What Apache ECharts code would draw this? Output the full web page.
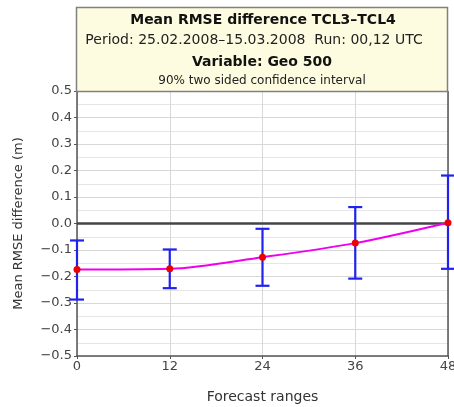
<!DOCTYPE html>
<html><head><meta charset="utf-8">
<script src="https://cdn.jsdelivr.net/npm/echarts@6/dist/echarts.min.js"></script>
<style>html,body{margin:0;padding:0;background:#fff}#c{width:454px;height:407px}</style>
</head><body><div id="c"></div>
<script>
const forecastRanges = [0, 12, 24, 36, 48];
const meanDiff = [-0.174, -0.171, -0.127, -0.074, 0.003];
const upperBound = [-0.064, -0.098, -0.020, 0.062, 0.181];
const lowerBound = [-0.287, -0.244, -0.235, -0.208, -0.171];
const titleLines = [
  'Mean RMSE difference TCL3\u2013TCL4',
  'Period: 25.02.2008\u201315.03.2008  Run: 00,12 UTC',
  'Variable: Geo 500',
  '90% two sided confidence interval'
];

const chart = echarts.init(document.getElementById('c'), null, {renderer: 'canvas'});
const font = 'DejaVu Sans, sans-serif';
const GL = 77, GR = 6, GT = 91, GB = 51;

const errData = forecastRanges.map((x, i) => [x, lowerBound[i], upperBound[i]]);
const lineData = forecastRanges.map((x, i) => [x, meanDiff[i]]);

chart.setOption({
  animation: false,
  textStyle: {fontFamily: font},
  grid: {left: GL, right: GR, top: GT, bottom: GB, show: false, containLabel: false, outerBoundsMode: 'none'},
  graphic: [
    {type: 'rect', shape: {x: 76.5, y: 7.5, width: 371, height: 84},
     style: {fill: '#fefce0', stroke: '#808080', lineWidth: 1.5}, z: 10},
    {type: 'text', x: 263, y: 20, style: {text: titleLines[0], font: 'bold 14px ' + font, fill: '#111', align: 'center', verticalAlign: 'middle'}, z: 11},
    {type: 'text', x: 254, y: 40, style: {text: titleLines[1], font: '14px ' + font, fill: '#222', align: 'center', verticalAlign: 'middle'}, z: 11},
    {type: 'text', x: 262, y: 62, style: {text: titleLines[2], font: 'bold 14px ' + font, fill: '#111', align: 'center', verticalAlign: 'middle'}, z: 11},
    {type: 'text', x: 262, y: 81, style: {text: titleLines[3], font: '12px ' + font, fill: '#222', align: 'center', verticalAlign: 'middle'}, z: 11}
  ],
  xAxis: {
    type: 'value', min: 0, max: 48, interval: 12,
    name: 'Forecast ranges', nameLocation: 'middle', nameGap: 34,
    nameTextStyle: {fontSize: 14, color: '#333', fontFamily: font},
    axisLine: {show: true, onZero: false, lineStyle: {color: '#555', width: 1.5}},
    axisTick: {show: true, length: 3, lineStyle: {color: '#555'}},
    axisLabel: {fontSize: 13, color: '#444', margin: 4, fontFamily: font},
    splitLine: {show: true, lineStyle: {color: '#d8d8d8', width: 1}}
  },
  yAxis: {
    type: 'value', min: -0.5, max: 0.5, interval: 0.1,
    name: 'Mean RMSE difference (m)', nameLocation: 'middle', nameGap: 52,
    nameTextStyle: {fontSize: 13, color: '#333', fontFamily: font},
    axisLine: {show: true, onZero: false, lineStyle: {color: '#555', width: 1.5}},
    axisTick: {show: true, length: 3, lineStyle: {color: '#555'}},
    axisLabel: {fontSize: 13, color: '#444', margin: 5, fontFamily: font,
      formatter: v => (Math.abs(v) < 1e-9 ? '0.0' : v.toFixed(1).replace('-', '\u2212'))},
    splitLine: {show: true, lineStyle: {color: '#d8d8d8', width: 1}},
    minorTick: {show: false, splitNumber: 2},
    minorSplitLine: {show: true, lineStyle: {color: '#e6e6e6', width: 1}}
  },
  series: [
    {
      type: 'line', data: [[0, 0], [48, 0]], symbol: 'none', silent: true,
      lineStyle: {color: '#444', width: 2.5}, z: 2
    },
    {
      type: 'line', data: [[48, -0.5], [48, 0.5]], symbol: 'none', silent: true,
      lineStyle: {color: '#555', width: 1.5}, z: 2
    },
    {
      type: 'custom', z: 4,
      renderItem: function (params, api) {
        const x = api.value(0);
        const lo = api.coord([x, api.value(1)]);
        const hi = api.coord([x, api.value(2)]);
        const w = 7;
        const st = {stroke: '#2222ee', lineWidth: 2.2};
        return {type: 'group', children: [
          {type: 'line', shape: {x1: lo[0], y1: lo[1], x2: hi[0], y2: hi[1]}, style: st},
          {type: 'line', shape: {x1: lo[0] - w, y1: lo[1], x2: lo[0] + w, y2: lo[1]}, style: st},
          {type: 'line', shape: {x1: hi[0] - w, y1: hi[1], x2: hi[0] + w, y2: hi[1]}, style: st}
        ]};
      },
      encode: {x: 0, y: [1, 2]},
      data: errData
    },
    {
      type: 'line', data: lineData, smooth: 0.3, z: 5,
      lineStyle: {color: '#ee00ee', width: 2},
      symbol: 'circle', symbolSize: 7,
      itemStyle: {color: '#ee0000', borderWidth: 0}
    }
  ]
});
</script></body></html>
